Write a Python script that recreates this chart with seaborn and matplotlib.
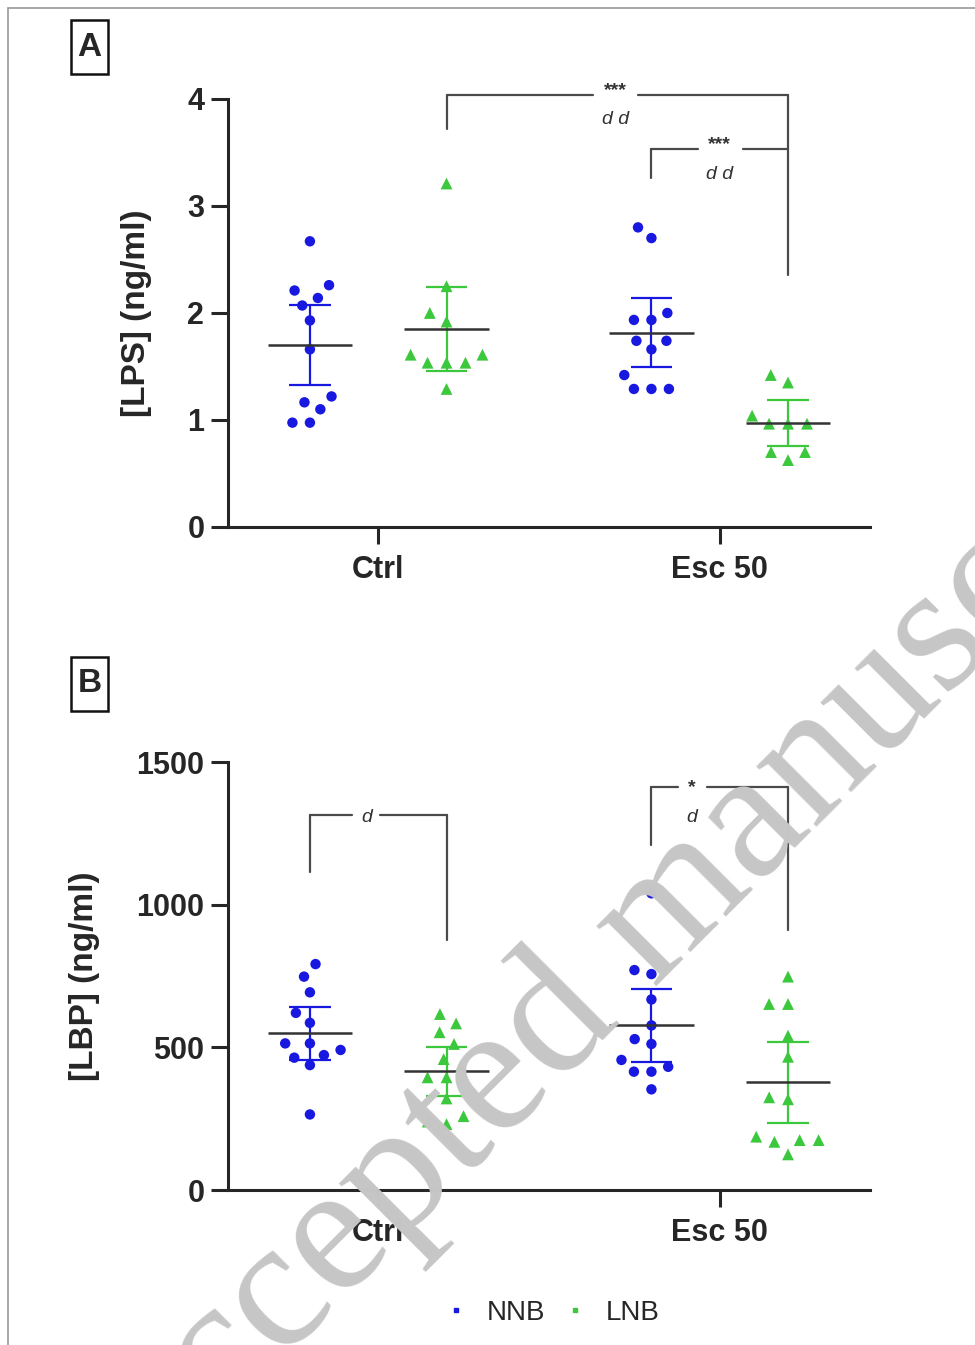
import numpy as np
import pandas as pd
import matplotlib
matplotlib.use("Agg")
import matplotlib.pyplot as plt
import seaborn as sns
from matplotlib.lines import Line2D
from matplotlib.patches import Rectangle

conditions = ["Ctrl", "Esc 50"]
groups = ["NNB", "LNB"]

# LPS (ng/ml)
lps_nnb_ctrl = [2.67, 2.26, 2.21, 2.14, 2.07, 1.93, 1.66, 1.22, 1.165, 1.10, 0.975, 0.975]
lps_lnb_ctrl = [3.21, 2.25, 2.00, 1.92, 1.61, 1.61, 1.535, 1.535, 1.535, 1.29]
lps_nnb_esc = [2.80, 2.70, 2.00, 1.935, 1.935, 1.74, 1.74, 1.66, 1.42, 1.29, 1.29, 1.29]
lps_lnb_esc = [1.42, 1.35, 1.04, 0.965, 0.965, 0.965, 0.70, 0.70, 0.625]

# LBP (ng/ml)
lbp_nnb_ctrl = [792, 748, 693, 621, 586, 514, 514, 491, 473, 464, 438, 265]
lbp_lnb_ctrl = [617, 584, 553, 512, 459, 435, 395, 395, 321, 259, 240, 231]
lbp_nnb_esc = [1040, 771, 757, 668, 577, 529, 512, 456, 432, 415, 415, 353]
lbp_lnb_esc = [748, 652, 652, 541, 467, 325, 318, 187, 175, 175, 169, 125]

palette = {"NNB": "#1818e0", "LNB": "#3cc83c"}
markers = {"NNB": ("o", 7.5), "LNB": ("^", 8.5)}
# t(0.975, df) for the 95% CI bars
t975 = {8: 2.306, 9: 2.262, 10: 2.228, 11: 2.201, 12: 2.179}


def long_df(nnb_ctrl, lnb_ctrl, nnb_esc, lnb_esc):
    rows = []
    for cond, g, vals in [("Ctrl", "NNB", nnb_ctrl), ("Ctrl", "LNB", lnb_ctrl),
                          ("Esc 50", "NNB", nnb_esc), ("Esc 50", "LNB", lnb_esc)]:
        for v in vals:
            rows.append({"cond": cond, "group": g, "val": v})
    return pd.DataFrame(rows)


sns.set_style("ticks")
plt.rcParams["font.family"] = ["Liberation Sans", "DejaVu Sans"]
plt.rcParams["font.weight"] = "bold"

fig = plt.figure(figsize=(9.75, 13.45), dpi=100)
axA = fig.add_axes([0.2338, 0.6082, 0.6585, 0.3182])
axB = fig.add_axes([0.2338, 0.1152, 0.6585, 0.3182])

dodge = 0.2


def draw_panel(ax, df):
    for g in groups:
        mk, sz = markers[g]
        sns.swarmplot(data=df[df.group == g], x="cond", y="val", hue="group",
                      order=conditions, hue_order=groups, palette=palette,
                      dodge=True, marker=mk, size=sz, linewidth=4.5,
                      edgecolor="none", legend=False, ax=ax, zorder=2)
    # mean with 95% CI
    for i, c in enumerate(conditions):
        for j, g in enumerate(groups):
            v = df[(df.cond == c) & (df.group == g)].val.to_numpy()
            m = v.mean()
            h = t975[len(v) - 1] * v.std(ddof=1) / np.sqrt(len(v))
            p = i + (-dodge if g == "NNB" else dodge)
            col = palette[g]
            ax.vlines(p, m - h, m + h, color=col, lw=1.6, zorder=3)
            ax.hlines([m - h, m + h], p - 0.061, p + 0.061, color=col, lw=1.6, zorder=3)
            ax.hlines(m, p - 0.124, p + 0.124, color="#333333", lw=1.8, zorder=4)
    ax.set_xlim(-0.44, 1.44)
    ax.set_xlabel("")
    sns.despine(ax=ax)
    for s in ["left", "bottom"]:
        ax.spines[s].set_linewidth(2.2)
    ax.tick_params(axis="both", length=12, width=2.2, labelsize=22, pad=5)
    ax.tick_params(axis="x", pad=8)
    for lab in ax.get_xticklabels() + ax.get_yticklabels():
        lab.set_fontweight("bold")


def bracket(ax, x1, x2, ytop, y1, y2, gap, top_txt, top_y, low_txt, low_y, tx):
    kw = dict(color="#4a4a4a", lw=1.6, clip_on=False, zorder=5)
    ax.plot([x1, x1], [y1, ytop], **kw)
    ax.plot([x2, x2], [y2, ytop], **kw)
    ax.plot([x1, gap[0]], [ytop, ytop], **kw)
    ax.plot([gap[1], x2], [ytop, ytop], **kw)
    if top_txt:
        ax.text(tx, top_y, top_txt, ha="center", va="baseline", fontsize=14,
                fontweight="bold", color="#333333", clip_on=False)
    if low_txt:
        ax.text(tx, low_y, low_txt, ha="center", va="baseline", fontsize=14,
                style="italic", fontweight="normal", color="#333333", clip_on=False)


dfA = long_df(lps_nnb_ctrl, lps_lnb_ctrl, lps_nnb_esc, lps_lnb_esc)
draw_panel(axA, dfA)
axA.set_ylim(0, 4)
axA.set_yticks([0, 1, 2, 3, 4])
axA.set_ylabel("[LPS] (ng/ml)", fontsize=24, fontweight="bold")
axA.yaxis.set_label_coords(-0.118, 0.5)
bracket(axA, dodge, 1 + dodge, 4.037, 3.72, 2.355, (0.629, 0.760),
        "***", 4.037, "d d", 3.77, 0.695)
bracket(axA, 1 - dodge, 1 + dodge, 3.533, 3.26, 3.533, (0.936, 1.067),
        "***", 3.533, "d d", 3.252, 1.0)

dfB = long_df(lbp_nnb_ctrl, lbp_lnb_ctrl, lbp_nnb_esc, lbp_lnb_esc)
draw_panel(axB, dfB)
axB.set_ylim(0, 1500)
axB.set_yticks([0, 500, 1000, 1500])
axB.set_ylabel("[LBP] (ng/ml)", fontsize=24, fontweight="bold")
axB.yaxis.set_label_coords(-0.2, 0.5)
bracket(axB, -dodge, dodge, 1314, 1115, 876, (-0.076, 0.006),
        None, 0, "d", 1290, -0.034)
bracket(axB, 1 - dodge, 1 + dodge, 1413, 1209, 911, (0.877, 0.962),
        "*", 1395, "d", 1290, 0.918)

# panel letters in boxes
for lab, ypx in [("A", 20), ("B", 657)]:
    fig.add_artist(Rectangle((71 / 975, 1 - (ypx + 54) / 1345), 37 / 975, 54 / 1345,
                             transform=fig.transFigure, fill=False, lw=1.8,
                             edgecolor="#111111"))
    fig.text(89.5 / 975, 1 - (ypx + 27) / 1345, lab, ha="center", va="center",
             fontsize=24, fontweight="bold")

# thin page frame
fig.add_artist(Line2D([8 / 975, 8 / 975], [0, 1 - 8 / 1345], transform=fig.transFigure,
                      color="#9a9a9a", lw=1.2))
fig.add_artist(Line2D([8 / 975, 1], [1 - 8 / 1345, 1 - 8 / 1345], transform=fig.transFigure,
                      color="#9a9a9a", lw=1.2))

handles = [Line2D([], [], ls="none", marker="s", ms=3.2, color=palette[g]) for g in groups]
fig.legend(handles, groups, loc="center", bbox_to_anchor=(0.565, 0.0238), ncol=2,
           frameon=False, prop={"size": 20, "weight": "normal"},
           handletextpad=0.6, columnspacing=0.6, handlelength=1.0)

# watermark
fig.text(0.667, 0.309, "Accepted manuscript", rotation=45, rotation_mode="anchor",
         ha="center", va="center", fontsize=133, color="#c6c6c6",
         family="Liberation Serif", fontweight="normal", zorder=10)

fig.savefig("out.png", dpi=100)
